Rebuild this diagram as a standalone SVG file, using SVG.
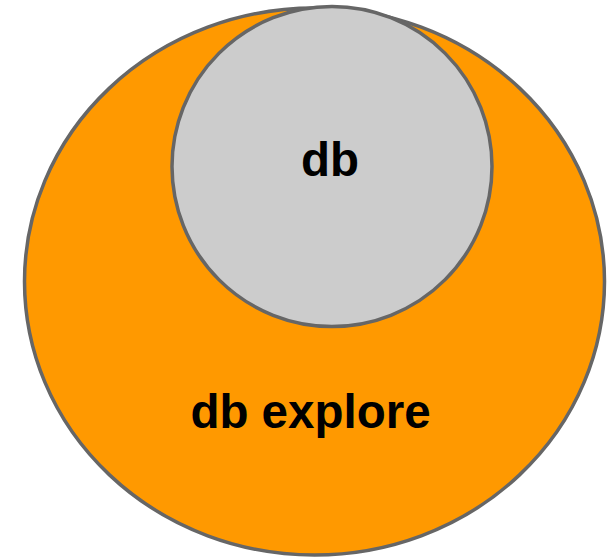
<svg xmlns="http://www.w3.org/2000/svg" width="610" height="558" viewBox="0 0 610 558">
  <style>
    .ring { stroke: #666666; stroke-width: 3.5; }
    .label { font-family: "Liberation Sans", Arial, sans-serif; font-weight: bold; font-size: 47.5px; fill: #000000; text-anchor: middle; }
  </style>
  <rect width="610" height="558" fill="#ffffff"/>
  <g id="db-explore">
    <ellipse class="ring" cx="314.5" cy="281.5" rx="290" ry="273.5" fill="#ff9900"/>
    <text class="label" x="310.5" y="428">db explore</text>
  </g>
  <g id="db">
    <circle class="ring" cx="332" cy="166.5" r="160" fill="#cccccc"/>
    <text class="label" x="330" y="176">db</text>
  </g>
  <g id="connectors"/>
</svg>
